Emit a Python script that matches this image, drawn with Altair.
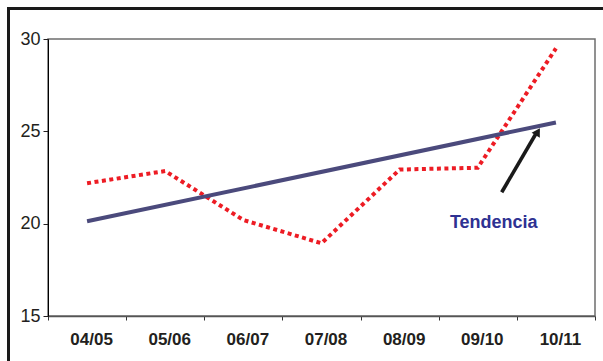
import altair as alt
import pandas as pd

categories = ["04/05", "05/06", "06/07", "07/08", "08/09", "09/10", "10/11"]
values = [22.19, 22.85, 20.2, 18.94, 22.93, 23.03, 29.49]
y_ticks = [15, 20, 25, 30]

df = pd.DataFrame({"cat": categories, "idx": list(range(len(categories))), "value": values})

# annotation (in data space: idx / value)
arrow_df = pd.DataFrame({"x": [5.306], "y": [21.70], "x2": [5.755], "y2": [24.95]})
head_df = pd.DataFrame({"x": [5.768], "y": [24.98]})
label_df = pd.DataFrame({"x": [5.204], "y": [19.78], "t": ["Tendencia"]})

FONT = "Liberation Sans"
yscale = alt.Scale(domain=[15, 30], nice=False, zero=False)
qx = alt.Scale(domain=[-0.5, 6.5], nice=False, zero=False)

base = alt.Chart(df)

red = base.mark_line(color="#ed1c24", strokeWidth=4, strokeDash=[4, 3.5], strokeCap="butt").encode(
    x=alt.X("cat:N", sort=categories, title=None,
            scale=alt.Scale(type="band", paddingInner=0, paddingOuter=0),
            axis=alt.Axis(tickBand="extent", labelAngle=0, labelFont=FONT, labelFontSize=17,
                          labelFontWeight="bold", labelColor="#231f20", labelOffset=4,
                          labelPadding=11, tickSize=4, tickColor="#333333", tickWidth=1,
                          domainColor="#555555", domainWidth=1.5)),
    y=alt.Y("value:Q", scale=yscale, title=None,
            axis=alt.Axis(values=y_ticks, grid=False, labelFont=FONT, labelFontSize=18,
                          labelColor="#231f20", tickSize=5, tickColor="#231f20",
                          labelPadding=3, domainColor="#000000", domainWidth=1)),
)

trend = base.transform_regression("idx", "value").mark_line(color="#4b4a7c", strokeWidth=4).encode(
    x=alt.X("idx:Q", scale=qx, axis=None),
    y=alt.Y("value:Q", scale=yscale),
)

arrow = alt.Chart(arrow_df).mark_rule(color="#1a1a1a", strokeWidth=3.6).encode(
    x=alt.X("x:Q", scale=qx, axis=None),
    x2="x2:Q",
    y=alt.Y("y:Q", scale=yscale),
    y2="y2:Q",
)

head = alt.Chart(head_df).mark_point(shape="triangle-up", filled=True, color="#1a1a1a",
                                     size=90, angle=30.5, opacity=1).encode(
    x=alt.X("x:Q", scale=qx, axis=None),
    y=alt.Y("y:Q", scale=yscale),
)

label = alt.Chart(label_df).mark_text(font=FONT, fontSize=18, fontWeight="bold",
                                      color="#2e3192", align="center", baseline="alphabetic").encode(
    x=alt.X("x:Q", scale=qx, axis=None),
    y=alt.Y("y:Q", scale=yscale),
    text="t:N",
)

left_border = alt.Chart(df).mark_rule(color="#1a1a1a", strokeWidth=3).encode(
    x=alt.value(-39.5), y=alt.value(-32), y2=alt.value(330))
top_border = alt.Chart(df).mark_rule(color="#1a1a1a", strokeWidth=3).encode(
    x=alt.value(-41), x2=alt.value(560), y=alt.value(-30.5))

chart = alt.layer(red, trend, arrow, head, label, left_border, top_border).resolve_scale(
    x="independent"
).properties(
    width=547, height=277,
    padding={"left": 48, "top": 39, "right": 8, "bottom": 45},
    autosize=alt.AutoSizeParams(type="none"),
    background="white",
).configure_view(stroke="#6d6d6d", strokeWidth=1.5)

chart.save("out.html", embed_options={"renderer": "svg", "actions": False})
